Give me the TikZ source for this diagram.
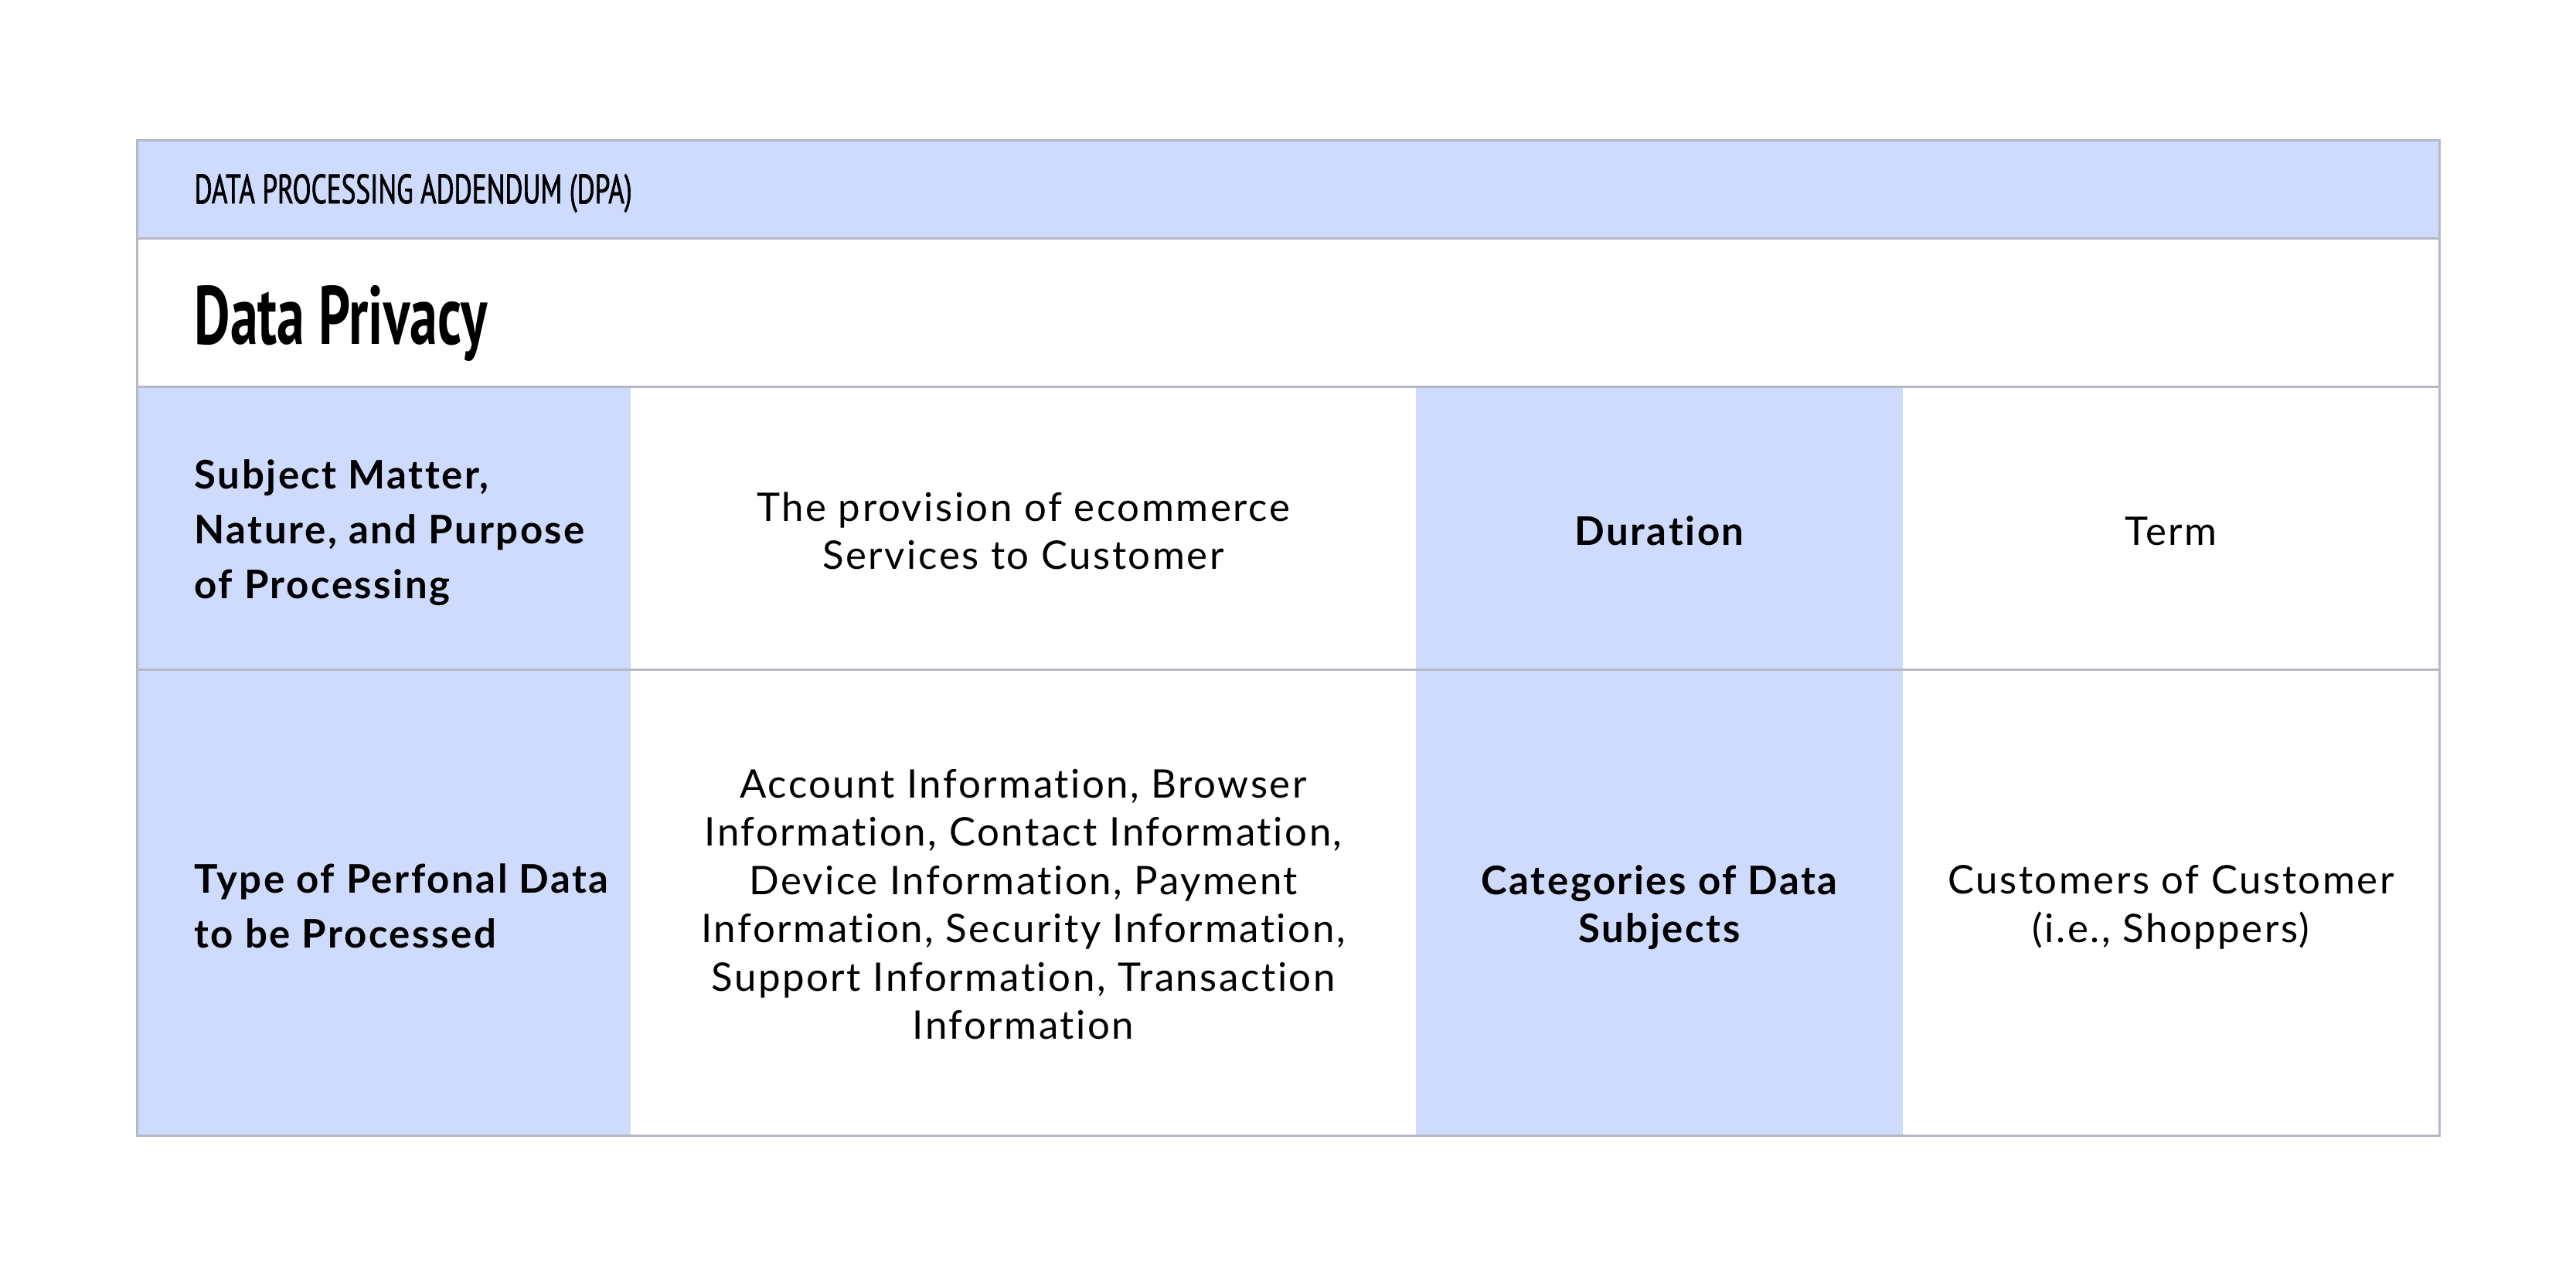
\documentclass[tikz,border=0pt]{standalone}
\usepackage{fontspec}
\setmainfont{Lato}[LetterSpace=5,Ligatures=NoCommon]
\newfontfamily\headfont{PT Sans}[FakeStretch=0.66,FakeBold=1.2]
\newfontfamily\titlefont{PT Sans}[FakeStretch=0.67]
\definecolor{cellblue}{RGB}{207,219,253}
\definecolor{gridgrey}{RGB}{181,185,198}
\begin{document}
\begin{tikzpicture}[x=1cm,y=1cm,
  lbl/.style={anchor=west,align=left,font=\bfseries\fontsize{14.5}{20.2}\selectfont,inner sep=0pt},
  body/.style={anchor=center,align=center,font=\fontsize{14.5}{17.8}\selectfont,inner sep=0pt},
  lblc/.style={anchor=center,align=center,font=\bfseries\fontsize{14.5}{17.8}\selectfont,inner sep=0pt},
  gridline/.style={draw=gridgrey,line width=0.03cm}]
\useasboundingbox (0,0) rectangle (33.33,-16.5);
\fill[white] (0,0) rectangle (33.33,-16.5);
% fills
\fill[cellblue] (1.77,-1.81) rectangle (31.56,-3.08);
\fill[cellblue] (1.77,-5.00) rectangle (8.16,-14.69);
\fill[cellblue] (18.32,-5.00) rectangle (24.62,-14.69);
% lines
\draw[gridline] (1.77,-3.08) -- (31.56,-3.08);
\draw[gridline] (1.77,-5.00) -- (31.56,-5.00);
\draw[gridline] (1.77,-8.66) -- (31.56,-8.66);
\draw[gridline] (1.77,-1.81) rectangle (31.56,-14.69);
% texts
\node[anchor=west,inner sep=0pt,font=\headfont\fontsize{15.2}{17}\selectfont] (hdr) at (2.51,-2.50) {DATA PROCESSING ADDENDUM (DPA)};
\node[anchor=west,inner sep=0pt,font=\titlefont\bfseries\fontsize{30.5}{34}\selectfont] (title) at (2.51,-4.18) {Data Privacy};
\node[lbl] (l1) at (2.51,-6.89) {Subject Matter,\\Nature, and Purpose\\of Processing};
\node[body] (v1) at (13.24,-6.87) {The provision of ecommerce\\Services to Customer};
\node[lblc] (l2) at (21.47,-6.87) {Duration};
\node[body] (v2) at (28.09,-6.87) {Term};
\node[lbl] (l3) at (2.51,-11.72) {Type of Perfonal Data\\to be Processed};
\node[body] (v3) at (13.24,-11.70) {Account Information, Browser\\Information, Contact Information,\\Device Information, Payment\\Information, Security Information,\\Support Information, Transaction\\Information};
\node[lblc] (l4) at (21.47,-11.74) {Categories of Data\\Subjects};
\node[body] (v4) at (28.09,-11.74) {Customers of Customer\\(i.e., Shoppers)};
\end{tikzpicture}
\end{document}
